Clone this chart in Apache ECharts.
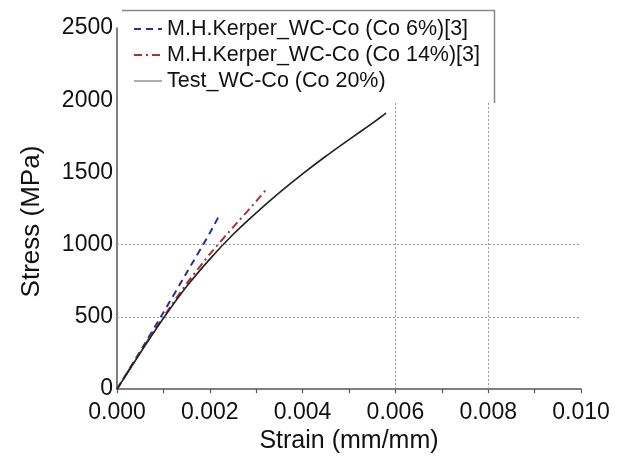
<!DOCTYPE html>
<html>
<head>
<meta charset="utf-8">
<script src="https://cdn.jsdelivr.net/npm/echarts@6/dist/echarts.min.js"></script>
<style>
html,body{margin:0;padding:0;background:#fff;}
#chart{width:624px;height:459px;}
</style>
</head>
<body>
<div id="chart"></div>
<script>
// ---- data ----
const seriesNames = [
  'M.H.Kerper_WC-Co (Co 6%)[3]',
  'M.H.Kerper_WC-Co (Co 14%)[3]',
  'Test_WC-Co (Co 20%)'
];
const co6Strain   = [0, 0.0005, 0.001, 0.0015, 0.002, 0.0022];
const co6Stress   = [0, 262, 530, 805, 1080, 1200];
const co14Strain  = [0, 0.0005, 0.001, 0.0015, 0.002, 0.0025, 0.003, 0.00325];
const co14Stress  = [0, 255, 500, 730, 935, 1120, 1300, 1395];
const testStrain  = [0, 0.0005, 0.001, 0.0015, 0.002, 0.0025, 0.003, 0.0035, 0.004, 0.0045, 0.005, 0.0055, 0.0058];
const testStress  = [0, 250, 490, 710, 900, 1070, 1220, 1360, 1490, 1612, 1727, 1840, 1910];
const gridStress  = [500, 1000];
const gridStrain  = [0.006, 0.008];

function pairs(xs, ys){ return xs.map((x,i)=>[x, ys[i]]); }

const FONT = "'Liberation Sans', Arial, sans-serif";
const chart = echarts.init(document.getElementById('chart'));

const markData = gridStress.map(v=>[{coord:[0, v]},{coord:[0.01, v]}])
  .concat(gridStrain.map(v=>[{coord:[v, 0]},{coord:[v, 2500]}]));

chart.setOption({
  animation:false,
  backgroundColor:'#fff',
  grid:{left:117, right:43, top:28, bottom:66},
  xAxis:{
    type:'value', min:0, max:0.01, interval:0.002,
    name:'Strain (mm/mm)', nameLocation:'middle', nameGap:38,
    nameTextStyle:{fontFamily:FONT, fontSize:25, color:'#111'},
    axisLine:{lineStyle:{color:'#555', width:1.5}},
    axisTick:{show:true, length:4, lineStyle:{color:'#555', width:1.2}},
    minorTick:{show:true, splitNumber:2, length:4, lineStyle:{color:'#555', width:1.2}},
    axisLabel:{fontFamily:FONT, fontSize:23, color:'#111', margin:12,
      formatter:v=>v.toFixed(3)},
    splitLine:{show:false}
  },
  yAxis:{
    type:'value', min:0, max:2500, interval:500,
    name:'Stress (MPa)', nameLocation:'middle', nameGap:72,
    nameTextStyle:{fontFamily:FONT, fontSize:26, color:'#111', padding:[0,26,0,0]},
    axisLine:{show:true, lineStyle:{color:'#555', width:1.5}},
    axisTick:{show:false},
    axisLabel:{fontFamily:FONT, fontSize:23, color:'#111', margin:4,
      formatter:v=>String(v)},
    splitLine:{show:false}
  },
  legend:{
    orient:'vertical', left:128, top:13, z:60,
    itemWidth:28, itemHeight:12, itemGap:4,
    itemStyle:{opacity:0},
    textStyle:{fontFamily:FONT, fontSize:21.5, color:'#111'},
    data:[
      {name:seriesNames[0]},
      {name:seriesNames[1]},
      {name:seriesNames[2], lineStyle:{color:'#8a8a8a', width:1.4}}
    ]
  },
  graphic:[
    {type:'rect', z:50, shape:{x:122, y:10, width:373, height:93}, style:{fill:'#fff'}},
    {type:'polyline', z:51, shape:{points:[[122,10.5],[494.5,10.5],[494.5,103]]},
      style:{stroke:'#888', lineWidth:1.5, fill:null}}
  ],
  series:[
    {name:seriesNames[0], type:'line', data:pairs(co6Strain, co6Stress), symbol:'none', smooth:0.2,
      lineStyle:{color:'#2b2f9e', width:2, type:[7,5]}, itemStyle:{color:'#2b2f9e'}, z:3},
    {name:seriesNames[1], type:'line', data:pairs(co14Strain, co14Stress), symbol:'none', smooth:0.2,
      lineStyle:{color:'#b03030', width:2, type:[8,4,2,4]}, itemStyle:{color:'#b03030'}, z:3},
    {name:seriesNames[2], type:'line', data:pairs(testStrain, testStress), symbol:'none', smooth:0.2,
      lineStyle:{color:'#222', width:1.6}, itemStyle:{color:'#222'}, z:4,
      markLine:{silent:true, symbol:'none', label:{show:false},
        lineStyle:{color:'#999', width:1, type:[2,2]}, data:markData}}
  ]
});
</script>
</body>
</html>
